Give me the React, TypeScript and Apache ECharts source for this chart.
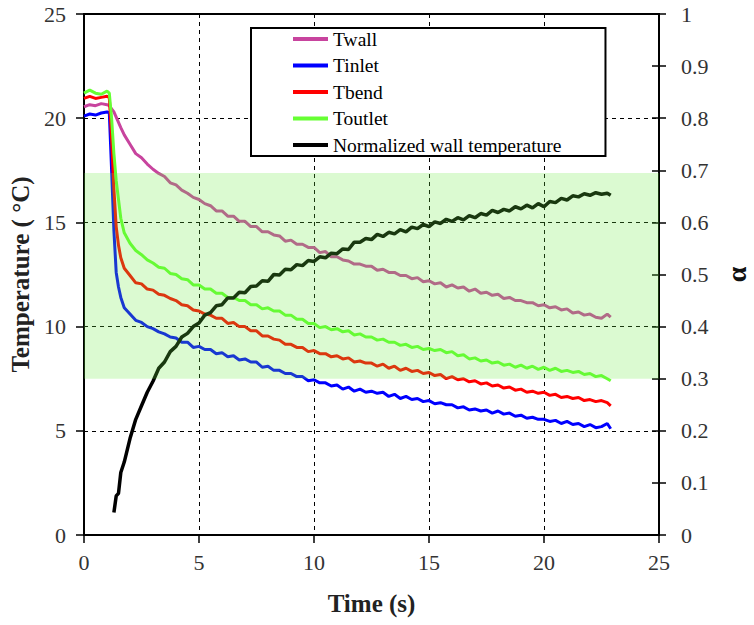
import React, { useEffect, useRef } from "react";
import * as echarts from "echarts";

// Time (s)
const TIME = [
  0, 0.25, 0.5, 0.75, 1.0,
  1.1, 1.2, 1.3, 1.4, 1.5, 1.6, 1.75,
  2, 2.25, 2.5, 2.75, 3, 3.25, 3.5, 3.75, 4, 4.25, 4.5, 4.75,
  5, 5.25, 5.5, 5.75, 6, 6.25, 6.5, 6.75, 7, 7.25, 7.5, 7.75,
  8, 8.25, 8.5, 8.75, 9, 9.25, 9.5, 9.75, 10, 10.25, 10.5, 10.75,
  11, 11.25, 11.5, 11.75, 12, 12.25, 12.5, 12.75, 13, 13.25, 13.5, 13.75,
  14, 14.25, 14.5, 14.75, 15, 15.25, 15.5, 15.75, 16, 16.25, 16.5, 16.75,
  17, 17.25, 17.5, 17.75, 18, 18.25, 18.5, 18.75, 19, 19.25, 19.5, 19.75,
  20, 20.25, 20.5, 20.75, 21, 21.25, 21.5, 21.75, 22, 22.25, 22.5, 22.75,
  22.9,
];

const TWALL = [
  20.55, 20.65, 20.6, 20.7, 20.65,
  20.6, 20.45, 20.3, 20.05, 19.8, 19.55, 19.2,
  18.75, 18.3, 18.1, 17.8, 17.55, 17.35, 17.2, 16.9, 16.8, 16.55, 16.4, 16.2,
  16.1, 15.9, 15.8, 15.55, 15.55, 15.3, 15.3, 15.05, 15.05, 14.8, 14.8, 14.55,
  14.55, 14.4, 14.35, 14.1, 14.15, 13.95, 13.95, 13.8, 13.8, 13.55, 13.6, 13.35,
  13.35, 13.2, 13.15, 13.0, 13.0, 12.9, 12.9, 12.7, 12.75, 12.6, 12.6, 12.45,
  12.45, 12.3, 12.35, 12.15, 12.2, 12.05, 12.1, 11.9, 12.0, 11.85, 11.9, 11.7,
  11.8, 11.6, 11.65, 11.5, 11.55, 11.35, 11.4, 11.25, 11.25, 11.15, 11.15, 11.0,
  11.05, 10.9, 10.95, 10.8, 10.85, 10.65, 10.7, 10.55, 10.6, 10.45, 10.4, 10.6,
  10.45,
];

const TINLET = [
  20.1, 20.2, 20.15, 20.25, 20.3,
  20.25, 17.5, 14.6, 12.6, 11.9, 11.4, 10.9,
  10.6, 10.3, 10.2, 10.0, 9.9, 9.75, 9.65, 9.5, 9.45, 9.25, 9.25, 9.0,
  9.05, 8.9, 8.9, 8.7, 8.75, 8.55, 8.6, 8.4, 8.45, 8.3, 8.3, 8.05,
  8.1, 7.9, 7.9, 7.75, 7.75, 7.6, 7.6, 7.4, 7.45, 7.3, 7.3, 7.15,
  7.2, 7.0, 7.1, 6.9, 7.0, 6.85, 6.9, 6.8, 6.85, 6.65, 6.75, 6.55,
  6.65, 6.5, 6.55, 6.4, 6.45, 6.3, 6.35, 6.25, 6.25, 6.1, 6.15, 6.0,
  6.05, 5.95, 6.0, 5.85, 5.95, 5.8, 5.85, 5.7, 5.75, 5.6, 5.65, 5.55,
  5.55, 5.45, 5.5, 5.35, 5.45, 5.3, 5.35, 5.2, 5.3, 5.15, 5.2, 5.35,
  5.1,
];

const TBEND = [
  20.95, 21.05, 20.95, 21.0, 21.05,
  21.0, 19.0, 16.6, 14.8, 13.9, 13.3, 12.8,
  12.45, 12.1, 12.05, 11.8, 11.75, 11.55, 11.5, 11.35, 11.25, 11.05, 11.0, 10.8,
  10.75, 10.6, 10.55, 10.4, 10.4, 10.15, 10.2, 10.0, 10.0, 9.8, 9.8, 9.55,
  9.55, 9.4, 9.35, 9.15, 9.15, 9.0, 9.0, 8.8, 8.85, 8.7, 8.7, 8.55,
  8.6, 8.45, 8.5, 8.3, 8.35, 8.25, 8.25, 8.1, 8.2, 8.0, 8.1, 7.9,
  8.0, 7.85, 7.9, 7.75, 7.8, 7.65, 7.7, 7.5, 7.6, 7.45, 7.5, 7.35,
  7.4, 7.25, 7.3, 7.15, 7.2, 7.05, 7.1, 6.95, 7.0, 6.85, 6.9, 6.8,
  6.85, 6.7, 6.75, 6.6, 6.65, 6.55, 6.6, 6.45, 6.5, 6.4, 6.45, 6.35,
  6.2,
];

const TOUTLET = [
  21.2, 21.35, 21.2, 21.15, 21.3,
  21.2, 20.0, 18.3, 17.0, 16.1, 15.2, 14.5,
  14.0, 13.65, 13.45, 13.2, 13.05, 12.85, 12.8, 12.55, 12.5, 12.3, 12.25, 12.0,
  12.0, 11.8, 11.8, 11.6, 11.6, 11.4, 11.4, 11.25, 11.25, 11.05, 11.05, 10.85,
  10.9, 10.75, 10.75, 10.55, 10.55, 10.35, 10.35, 10.15, 10.15, 9.95, 10.0, 9.85,
  9.9, 9.75, 9.8, 9.6, 9.65, 9.5, 9.5, 9.35, 9.4, 9.25, 9.25, 9.1,
  9.15, 9.0, 9.05, 8.9, 8.95, 8.85, 8.9, 8.75, 8.8, 8.6, 8.65, 8.45,
  8.5, 8.35, 8.4, 8.25, 8.3, 8.15, 8.2, 8.05, 8.15, 8.0, 8.1, 7.95,
  8.05, 7.9, 8.0, 7.85, 7.9, 7.8, 7.85, 7.7, 7.75, 7.6, 7.65, 7.5,
  7.4,
];

// Normalized wall temperature (alpha, right axis)
const ALPHA: (number | null)[] = [
  null, null, null, null, null,
  null, null, 0.043, 0.075, 0.08, 0.12, 0.14,
  0.185, 0.222, 0.248, 0.274, 0.295, 0.32, 0.332, 0.352, 0.362, 0.38, 0.387, 0.4,
  0.407, 0.422, 0.427, 0.44, 0.442, 0.455, 0.455, 0.466, 0.465, 0.477, 0.478, 0.488,
  0.487, 0.5, 0.499, 0.51, 0.509, 0.519, 0.517, 0.527, 0.525, 0.534, 0.532, 0.541,
  0.54, 0.549, 0.548, 0.562, 0.562, 0.569, 0.567, 0.577, 0.573, 0.581, 0.578, 0.586,
  0.582, 0.591, 0.588, 0.596, 0.592, 0.601, 0.598, 0.606, 0.602, 0.609, 0.605, 0.613,
  0.609, 0.617, 0.614, 0.623, 0.619, 0.625, 0.622, 0.63, 0.626, 0.633, 0.628, 0.636,
  0.63, 0.64, 0.638, 0.646, 0.643, 0.651, 0.649, 0.655, 0.652, 0.657, 0.654, 0.656,
  0.652,
];

// Shaded alpha band (right axis): [x start, alpha low, x end, alpha high]
const BAND = [0, 0.3, 25, 0.695];

const SERIES_NAMES = ["Twall", "Tinlet", "Tbend", "Toutlet", "Normalized wall temperature"];
const COLORS = ["#c8449e", "#0000ff", "#ff0000", "#66ff33", "#000000"];

const SERIF = "Liberation Serif";

function pairs(vals: (number | null)[]) {
  const out: [number, number][] = [];
  vals.forEach((v, i) => {
    if (v !== null) out.push([TIME[i], v]);
  });
  return out;
}

export default function App() {
  const ref = useRef<HTMLDivElement>(null);
  useEffect(() => {
    if (!ref.current) return;
    document.documentElement.style.overflow = "hidden";
    document.body.style.margin = "0";
    const chart = echarts.init(ref.current, undefined, { renderer: "svg", width: 754, height: 625 });
    const tempSeries = [TWALL, TINLET, TBEND, TOUTLET].map((vals, k) => ({
      name: SERIES_NAMES[k],
      type: "line",
      data: pairs(vals),
      yAxisIndex: 0,
      showSymbol: false,
      symbol: "none",
      lineStyle: { color: COLORS[k], width: 3 },
      itemStyle: { color: COLORS[k] },
      z: 2,
    }));
    const option: any = {
      animation: false,
      backgroundColor: "#fff",
      grid: {
        left: 84,
        right: 95,
        top: 14,
        bottom: 90,
        containLabel: false,
        outerBoundsMode: "none",
        show: true,
        borderColor: "#000",
        borderWidth: 2,
        backgroundColor: "transparent",
      },
      legend: {
        data: SERIES_NAMES,
        orient: "vertical",
        left: 251,
        top: 28,
        padding: [1, 44, 1, 42],
        itemGap: 6.5,
        itemWidth: 35,
        itemHeight: 4,
        icon: "rect",
        backgroundColor: "#fff",
        borderColor: "#000",
        borderWidth: 2,
        selectedMode: false,
        textStyle: { fontFamily: SERIF, fontSize: 19.5, color: "#000", lineHeight: 18 },
      },
      xAxis: {
        type: "value",
        min: 0,
        max: 25,
        interval: 5,
        name: "Time (s)",
        nameLocation: "middle",
        nameGap: 56,
        nameTextStyle: { fontFamily: SERIF, fontSize: 25, fontWeight: "bold", color: "#222" },
        axisLine: { lineStyle: { color: "#000", width: 2 } },
        axisTick: { length: 8, lineStyle: { color: "#000", width: 1.5 } },
        axisLabel: { margin: 16, fontFamily: SERIF, fontSize: 22, color: "#333" },
        splitLine: { show: true, lineStyle: { type: [4, 4], color: "#000", width: 1 } },
      },
      yAxis: [
        {
          type: "value",
          min: 0,
          max: 25,
          interval: 5,
          position: "left",
          name: "Temperature ( °C)",
          nameLocation: "middle",
          nameGap: 48,
          nameRotate: 90,
          nameTextStyle: { fontFamily: SERIF, fontSize: 25, fontWeight: "bold", color: "#222" },
          axisLine: { show: true, lineStyle: { color: "#000", width: 2 } },
          axisTick: { show: true, length: 8, lineStyle: { color: "#000", width: 1.5 } },
          axisLabel: { margin: 18, fontFamily: SERIF, fontSize: 22, color: "#333" },
          splitLine: { show: true, lineStyle: { type: [4, 4], color: "#000", width: 1 } },
        },
        {
          type: "value",
          min: 0,
          max: 1,
          interval: 0.1,
          position: "right",
          name: "α",
          nameLocation: "middle",
          nameGap: 63,
          nameRotate: 90,
          nameTextStyle: { fontFamily: SERIF, fontSize: 28, fontWeight: "bold", color: "#111" },
          axisLine: { show: true, lineStyle: { color: "#000", width: 2 } },
          axisTick: { show: true, length: 7, lineStyle: { color: "#000", width: 1.5 } },
          axisLabel: { margin: 22, fontFamily: SERIF, fontSize: 22, color: "#333" },
          splitLine: { show: false },
        },
        {
          type: "value",
          min: 0,
          max: 1,
          interval: 0.1,
          position: "right",
          axisLine: { show: false },
          axisTick: { show: true, inside: true, length: 7, lineStyle: { color: "#000", width: 1.5 } },
          axisLabel: { show: false },
          splitLine: { show: false },
        },
      ],
      series: [
        ...tempSeries,
        {
          name: SERIES_NAMES[4],
          type: "line",
          data: pairs(ALPHA),
          yAxisIndex: 1,
          showSymbol: false,
          symbol: "none",
          lineStyle: { color: COLORS[4], width: 3.5 },
          itemStyle: { color: COLORS[4] },
          z: 3,
        },
        {
          name: "band",
          type: "custom",
          yAxisIndex: 1,
          z: 10,
          silent: true,
          data: [BAND],
          renderItem: (params: any, api: any) => {
            const p0 = api.coord([api.value(0), api.value(1)]);
            const p1 = api.coord([api.value(2), api.value(3)]);
            return {
              type: "rect",
              shape: { x: p0[0], y: p1[1], width: p1[0] - p0[0], height: p0[1] - p1[1] },
              style: { fill: "rgba(106,234,64,0.24)" },
            };
          },
        },
      ],
    };
    chart.setOption(option);
    return () => chart.dispose();
  }, []);
  return (
    <div
      ref={ref}
      style={{ position: "fixed", left: 0, top: 0, width: 754, height: 625, background: "#fff" }}
    />
  );
}
